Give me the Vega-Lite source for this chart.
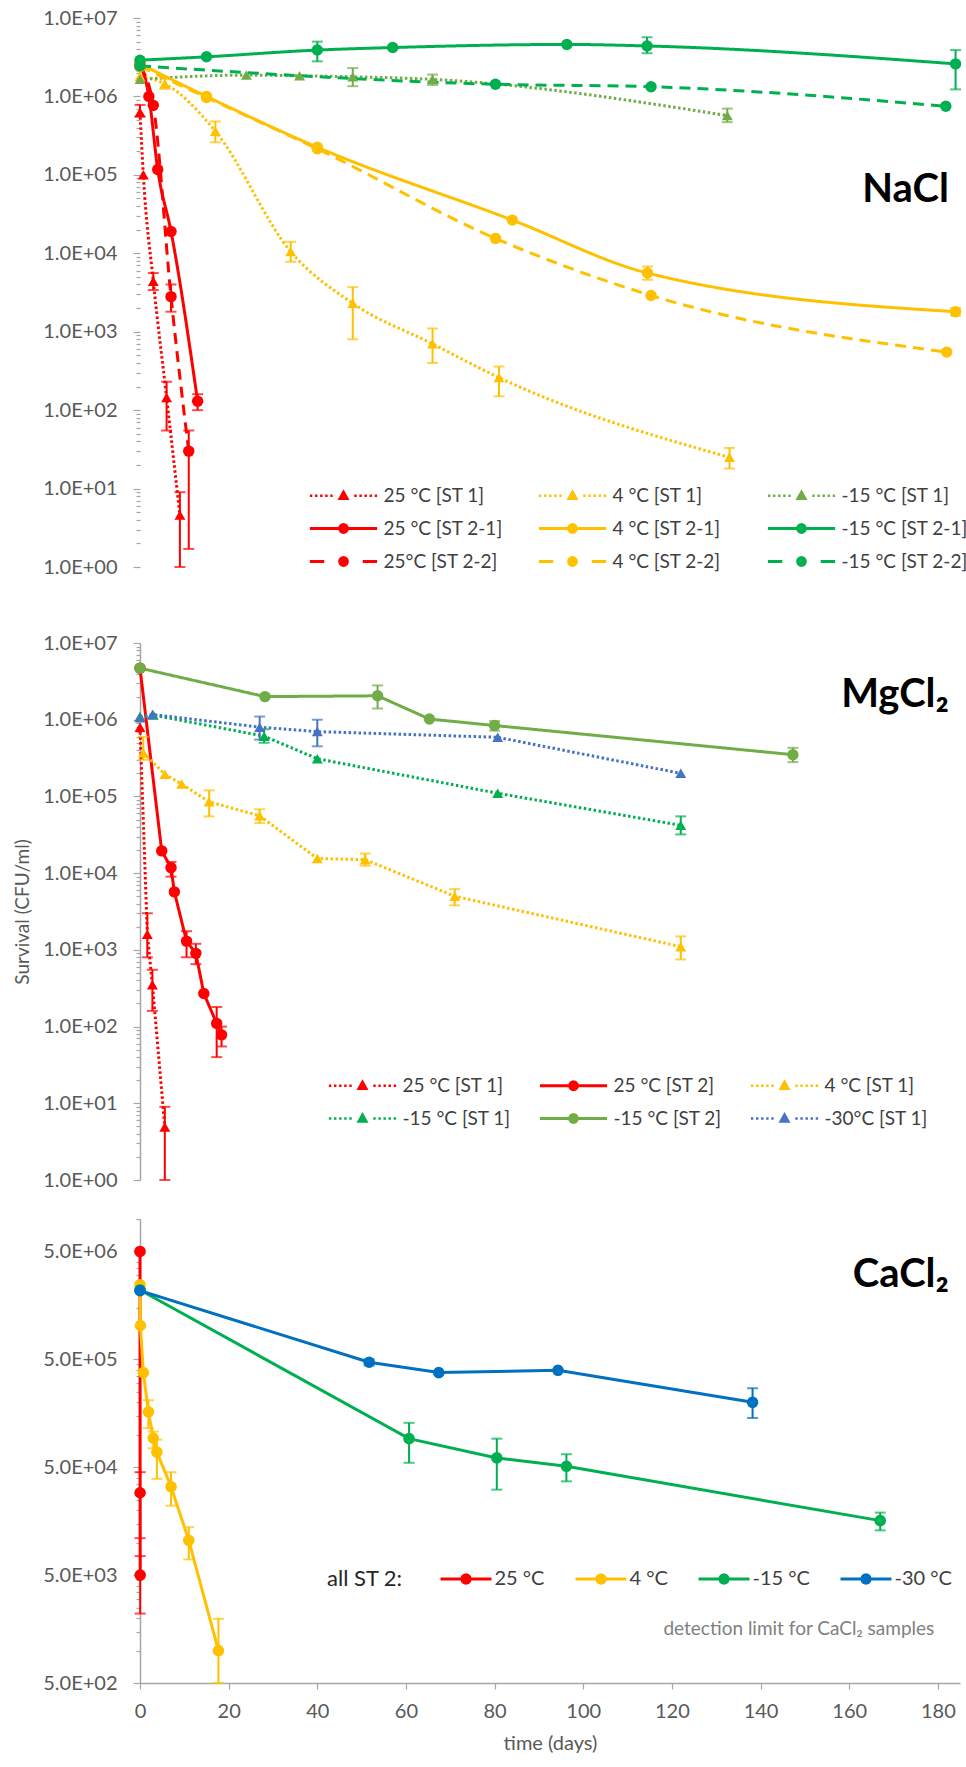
{
  "$schema": "https://vega.github.io/schema/vega-lite/v6.json",
  "padding": {"left": 13, "top": 8, "right": 5, "bottom": 5},
  "config": {
    "view": {"stroke": null},
    "font": "Lato",
    "axis": {"labelFont": "Lato", "labelFontSize": 20, "labelColor": "#595959", "domainColor": "#A6A6A6", "domainWidth": 1.5, "tickColor": "#A6A6A6", "tickWidth": 1.2, "grid": false, "labelPadding": 16, "titleFont": "Lato", "titleFontWeight": "normal", "titleColor": "#595959", "labelOverlap": false, "labelFlush": false},
    "legend": {"labelFont": "Lato", "labelFontSize": 19, "labelColor": "#404040", "labelLimit": 400, "symbolStrokeWidth": 0, "symbolSize": 144, "titleFont": "Lato", "direction": "horizontal"}
  },
  "datasets": {
    "nacl": [
      {"series": "25 °C [ST 1]", "day": 0, "v": 630000, "lo": 550000, "hi": 780000},
      {"series": "25 °C [ST 1]", "day": 0.75, "v": 100000},
      {"series": "25 °C [ST 1]", "day": 3, "v": 4400, "lo": 3400, "hi": 5600},
      {"series": "25 °C [ST 1]", "day": 6, "v": 145, "lo": 55, "hi": 230},
      {"series": "25 °C [ST 1]", "day": 9, "v": 4.6, "lo": 1, "hi": 9},
      {"series": "4 °C [ST 1]", "day": 0, "v": 1800000},
      {"series": "4 °C [ST 1]", "day": 5.6, "v": 1450000, "lo": 1250000, "hi": 1700000},
      {"series": "4 °C [ST 1]", "day": 17, "v": 360000, "lo": 260000, "hi": 480000},
      {"series": "4 °C [ST 1]", "day": 34, "v": 10500, "lo": 7800, "hi": 14000},
      {"series": "4 °C [ST 1]", "day": 48, "v": 2300, "lo": 800, "hi": 3700},
      {"series": "4 °C [ST 1]", "day": 66, "v": 700, "lo": 400, "hi": 1100},
      {"series": "4 °C [ST 1]", "day": 81, "v": 260, "lo": 150, "hi": 360},
      {"series": "4 °C [ST 1]", "day": 133, "v": 25, "lo": 18, "hi": 33},
      {"series": "-15 °C [ST 1]", "day": 0, "v": 1650000},
      {"series": "-15 °C [ST 1]", "day": 24, "v": 1870000},
      {"series": "-15 °C [ST 1]", "day": 36, "v": 1830000},
      {"series": "-15 °C [ST 1]", "day": 48, "v": 1780000, "lo": 1350000, "hi": 2300000},
      {"series": "-15 °C [ST 1]", "day": 66, "v": 1650000, "lo": 1400000, "hi": 1900000},
      {"series": "-15 °C [ST 1]", "day": 132.5, "v": 570000, "lo": 470000, "hi": 700000},
      {"series": "25 °C [ST 2-1]", "day": 0, "v": 2600000},
      {"series": "25 °C [ST 2-1]", "day": 2, "v": 1000000},
      {"series": "25 °C [ST 2-1]", "day": 4, "v": 117000},
      {"series": "25 °C [ST 2-1]", "day": 7, "v": 19000},
      {"series": "25 °C [ST 2-1]", "day": 13, "v": 130, "lo": 100, "hi": 160},
      {"series": "4 °C [ST 2-1]", "day": 0, "v": 2600000},
      {"series": "4 °C [ST 2-1]", "day": 15, "v": 1000000},
      {"series": "4 °C [ST 2-1]", "day": 40, "v": 225000},
      {"series": "4 °C [ST 2-1]", "day": 84, "v": 26500},
      {"series": "4 °C [ST 2-1]", "day": 114.5, "v": 5600, "lo": 4600, "hi": 6800},
      {"series": "4 °C [ST 2-1]", "day": 184, "v": 1800, "lo": 1600, "hi": 2000},
      {"series": "-15 °C [ST 2-1]", "day": 0, "v": 2900000},
      {"series": "-15 °C [ST 2-1]", "day": 15, "v": 3200000},
      {"series": "-15 °C [ST 2-1]", "day": 40, "v": 3900000, "lo": 2800000, "hi": 5000000},
      {"series": "-15 °C [ST 2-1]", "day": 57, "v": 4200000},
      {"series": "-15 °C [ST 2-1]", "day": 96.3, "v": 4600000},
      {"series": "-15 °C [ST 2-1]", "day": 114.4, "v": 4400000, "lo": 3550000, "hi": 5700000},
      {"series": "-15 °C [ST 2-1]", "day": 184, "v": 2600000, "lo": 1230000, "hi": 3900000},
      {"series": "25°C [ST 2-2]", "day": 0, "v": 2400000},
      {"series": "25°C [ST 2-2]", "day": 3, "v": 770000},
      {"series": "25°C [ST 2-2]", "day": 7, "v": 2800, "lo": 1800, "hi": 4000},
      {"series": "25°C [ST 2-2]", "day": 11, "v": 30, "lo": 1.7, "hi": 55},
      {"series": "4 °C [ST 2-2]", "day": 0, "v": 2400000},
      {"series": "4 °C [ST 2-2]", "day": 15, "v": 970000},
      {"series": "4 °C [ST 2-2]", "day": 40, "v": 215000},
      {"series": "4 °C [ST 2-2]", "day": 80.2, "v": 15500},
      {"series": "4 °C [ST 2-2]", "day": 115.3, "v": 2900},
      {"series": "4 °C [ST 2-2]", "day": 182, "v": 550},
      {"series": "-15 °C [ST 2-2]", "day": 0, "v": 2450000},
      {"series": "-15 °C [ST 2-2]", "day": 80.2, "v": 1430000},
      {"series": "-15 °C [ST 2-2]", "day": 115.3, "v": 1330000},
      {"series": "-15 °C [ST 2-2]", "day": 181.8, "v": 750000}
    ],
    "mgcl": [
      {"series": "25 °C [ST 1]", "day": 0, "v": 800000},
      {"series": "25 °C [ST 1]", "day": 1.65, "v": 1600, "lo": 800, "hi": 3000},
      {"series": "25 °C [ST 1]", "day": 2.8, "v": 350, "lo": 160, "hi": 550},
      {"series": "25 °C [ST 1]", "day": 5.6, "v": 4.9, "lo": 1, "hi": 9},
      {"series": "25 °C [ST 2]", "day": 0, "v": 4700000},
      {"series": "25 °C [ST 2]", "day": 4.9, "v": 19500},
      {"series": "25 °C [ST 2]", "day": 7, "v": 11800, "lo": 9000, "hi": 14000},
      {"series": "25 °C [ST 2]", "day": 7.75, "v": 5700},
      {"series": "25 °C [ST 2]", "day": 10.5, "v": 1300, "lo": 800, "hi": 1750},
      {"series": "25 °C [ST 2]", "day": 12.6, "v": 900, "lo": 650, "hi": 1200},
      {"series": "25 °C [ST 2]", "day": 14.4, "v": 270},
      {"series": "25 °C [ST 2]", "day": 17.3, "v": 110, "lo": 40, "hi": 180},
      {"series": "25 °C [ST 2]", "day": 18.4, "v": 78, "lo": 55, "hi": 100},
      {"series": "4 °C [ST 1]", "day": 0.75, "v": 370000, "lo": 300000, "hi": 600000},
      {"series": "4 °C [ST 1]", "day": 5.6, "v": 195000},
      {"series": "4 °C [ST 1]", "day": 9.4, "v": 145000},
      {"series": "4 °C [ST 1]", "day": 15.6, "v": 85000, "lo": 55000, "hi": 120000},
      {"series": "4 °C [ST 1]", "day": 27, "v": 56000, "lo": 45000, "hi": 68000},
      {"series": "4 °C [ST 1]", "day": 40, "v": 15500},
      {"series": "4 °C [ST 1]", "day": 50.8, "v": 15000, "lo": 12500, "hi": 18000},
      {"series": "4 °C [ST 1]", "day": 71, "v": 5000, "lo": 3800, "hi": 6200},
      {"series": "4 °C [ST 1]", "day": 122, "v": 1100, "lo": 750, "hi": 1500},
      {"series": "-15 °C [ST 1]", "day": 0, "v": 1100000},
      {"series": "-15 °C [ST 1]", "day": 3, "v": 1150000},
      {"series": "-15 °C [ST 1]", "day": 28, "v": 610000, "lo": 500000, "hi": 750000},
      {"series": "-15 °C [ST 1]", "day": 40, "v": 310000},
      {"series": "-15 °C [ST 1]", "day": 80.7, "v": 110000},
      {"series": "-15 °C [ST 1]", "day": 122, "v": 42000, "lo": 32000, "hi": 55000},
      {"series": "-15 °C [ST 2]", "day": 0, "v": 4700000},
      {"series": "-15 °C [ST 2]", "day": 28.2, "v": 2000000},
      {"series": "-15 °C [ST 2]", "day": 53.6, "v": 2050000, "lo": 1400000, "hi": 2800000},
      {"series": "-15 °C [ST 2]", "day": 65.3, "v": 1020000},
      {"series": "-15 °C [ST 2]", "day": 80, "v": 840000, "lo": 720000, "hi": 960000},
      {"series": "-15 °C [ST 2]", "day": 147.3, "v": 350000, "lo": 280000, "hi": 430000},
      {"series": "-30°C [ST 1]", "day": 0, "v": 1060000},
      {"series": "-30°C [ST 1]", "day": 2.8, "v": 1170000},
      {"series": "-30°C [ST 1]", "day": 27, "v": 800000, "lo": 550000, "hi": 1100000},
      {"series": "-30°C [ST 1]", "day": 40, "v": 700000, "lo": 450000, "hi": 1000000},
      {"series": "-30°C [ST 1]", "day": 80.7, "v": 590000},
      {"series": "-30°C [ST 1]", "day": 122, "v": 200000}
    ],
    "cacl": [
      {"series": "25 °C", "day": 0, "v": 5000000},
      {"series": "25 °C", "day": 0.02, "v": 29000, "lo": 11000, "hi": 45000},
      {"series": "25 °C", "day": 0.04, "v": 5000, "lo": 2200, "hi": 7500},
      {"series": "4 °C", "day": 0, "v": 2460000},
      {"series": "4 °C", "day": 0.1, "v": 1030000},
      {"series": "4 °C", "day": 0.75, "v": 377000},
      {"series": "4 °C", "day": 1.9, "v": 163000, "lo": 115000, "hi": 209000},
      {"series": "4 °C", "day": 3, "v": 93000, "lo": 75000, "hi": 107000},
      {"series": "4 °C", "day": 3.8, "v": 69000, "lo": 39000, "hi": 90000},
      {"series": "4 °C", "day": 7, "v": 33000, "lo": 22000, "hi": 45000},
      {"series": "4 °C", "day": 11, "v": 10500, "lo": 7000, "hi": 13900},
      {"series": "4 °C", "day": 17.7, "v": 1000, "lo": 500, "hi": 1970},
      {"series": "-15 °C", "day": 0, "v": 2200000},
      {"series": "-15 °C", "day": 60.7, "v": 92000, "lo": 55000, "hi": 129000},
      {"series": "-15 °C", "day": 80.5, "v": 61000, "lo": 31000, "hi": 92000},
      {"series": "-15 °C", "day": 96.2, "v": 51000, "lo": 37000, "hi": 66000},
      {"series": "-15 °C", "day": 167, "v": 16000, "lo": 13000, "hi": 19000},
      {"series": "-30 °C", "day": 0, "v": 2170000},
      {"series": "-30 °C", "day": 51.7, "v": 470000, "lo": 440000, "hi": 500000},
      {"series": "-30 °C", "day": 67.4, "v": 377000},
      {"series": "-30 °C", "day": 94.3, "v": 396000},
      {"series": "-30 °C", "day": 138.2, "v": 200000, "lo": 143000, "hi": 270000}
    ]
  },
  "vconcat": [
    {
      "width": 820, "height": 586,
      "data": {"name": "nacl"},
      "encoding": {
        "x": {"field": "day", "type": "quantitative", "scale": {"domain": [0, 185], "nice": false, "zero": false}, "axis": null},
        "y": {"field": "v", "type": "quantitative", "scale": {"type": "log", "domain": [0.3375, 10000000], "nice": false},
          "axis": {"title": null, "domain": false, "values": [1,2,3,4,5,6,7,8,9,10,20,30,40,50,60,70,80,90,100,200,300,400,500,600,700,800,900,1000,2000,3000,4000,5000,6000,7000,8000,9000,10000,20000,30000,40000,50000,60000,70000,80000,90000,100000,200000,300000,400000,500000,600000,700000,800000,900000,1000000,2000000,3000000,4000000,5000000,6000000,7000000,8000000,9000000,10000000],
            "labelExpr": "abs(log(datum.value)/LN10 - round(log(datum.value)/LN10)) < 0.000001 ? '1.0E+0' + round(log(datum.value)/LN10) : ''",
            "tickSize": {"condition": {"test": "abs(log(datum.value)/LN10 - round(log(datum.value)/LN10)) < 0.000001", "value": 7}, "value": 4}}},
        "color": {"field": "series", "type": "nominal",
          "scale": {"domain": ["25 °C [ST 1]", "4 °C [ST 1]", "-15 °C [ST 1]", "25 °C [ST 2-1]", "4 °C [ST 2-1]", "-15 °C [ST 2-1]", "25°C [ST 2-2]", "4 °C [ST 2-2]", "-15 °C [ST 2-2]"],
            "range": ["#FF0000", "#FFC000", "#70AD47", "#FF0000", "#FFC000", "#00B050", "#FF0000", "#FFC000", "#00B050"]},
          "legend": {"orient": "none", "legendX": 170, "legendY": 468, "columns": 3, "gridAlign": "all", "columnPadding": 28, "rowPadding": 13, "title": null,
            "symbolOffset": 24, "labelOffset": 30.5,
            "encoding": {"symbols": {
              "shape": {"value": {"expr": "indexof(datum.value, 'ST 1]') >= 0 ? 'M-5.6,-0.2L-5.2,-0.2L-5.2,0.2L-5.6,0.2ZM-4.75,-0.2L-4.35,-0.2L-4.35,0.2L-4.75,0.2ZM-3.9,-0.2L-3.5,-0.2L-3.5,0.2L-3.9,0.2ZM-3.05,-0.2L-2.65,-0.2L-2.65,0.2L-3.05,0.2ZM-2.2,-0.2L-1.8,-0.2L-1.8,0.2L-2.2,0.2ZM1.8,-0.2L2.2,-0.2L2.2,0.2L1.8,0.2ZM2.65,-0.2L3.05,-0.2L3.05,0.2L2.65,0.2ZM3.5,-0.2L3.9,-0.2L3.9,0.2L3.5,0.2ZM4.35,-0.2L4.75,-0.2L4.75,0.2L4.35,0.2ZM5.2,-0.2L5.6,-0.2L5.6,0.2L5.2,0.2ZM0,-1.1L1,0.7L-1,0.7Z' : (indexof(datum.value, '2-2') >= 0 ? 'M-5.6,-0.25L-3.2,-0.25L-3.2,0.25L-5.6,0.25ZM3.2,-0.25L5.6,-0.25L5.6,0.25L3.2,0.25ZM0.9,0L0.78,0.45L0.45,0.78L0,0.9L-0.45,0.78L-0.78,0.45L-0.9,0L-0.78,-0.45L-0.45,-0.78L0,-0.9L0.45,-0.78L0.78,-0.45Z' : 'M-5.6,-0.25L5.6,-0.25L5.6,0.25L-5.6,0.25ZM0.9,0L0.78,0.45L0.45,0.78L0,0.9L-0.45,0.78L-0.78,0.45L-0.9,0L-0.78,-0.45L-0.45,-0.78L0,-0.9L0.45,-0.78L0.78,-0.45Z')"}},
              "fill": {"value": {"expr": "indexof(datum.value, '-15') >= 0 ? (indexof(datum.value, 'ST 1]') >= 0 ? '#70AD47' : '#00B050') : (indexof(datum.value, '25') >= 0 ? '#FF0000' : '#FFC000')"}},
              "strokeWidth": {"value": 0},
              "opacity": {"value": 1}
            }}}}
      },
      "layer": [
        {"data": {"values": [{"a": 1}]},
         "mark": {"type": "rule", "strokeWidth": 1.5},
         "encoding": {"x": {"datum": 0}, "y": {"datum": 1}, "y2": {"datum": 10000000}, "color": {"value": "#A6A6A6"}}},
        {"mark": {"type": "line", "interpolate": "monotone", "strokeWidth": 3, "strokeCap": "butt"},
         "encoding": {"strokeDash": {"field": "series", "type": "nominal", "legend": null,
           "scale": {"domain": ["25 °C [ST 1]", "4 °C [ST 1]", "-15 °C [ST 1]", "25 °C [ST 2-1]", "4 °C [ST 2-1]", "-15 °C [ST 2-1]", "25°C [ST 2-2]", "4 °C [ST 2-2]", "-15 °C [ST 2-2]"],
             "range": [[2.5, 2.5], [2.5, 2.5], [2.5, 2.5], [1, 0], [1, 0], [1, 0], [11, 7], [11, 7], [11, 7]]}}}},
        {"transform": [{"filter": "isValid(datum.lo)"}],
         "mark": {"type": "errorbar", "ticks": true, "size": 11, "thickness": 2},
         "encoding": {"y": {"field": "lo", "type": "quantitative", "scale": {"type": "log", "domain": [0.3375, 10000000], "nice": false}}, "y2": {"field": "hi"}}},
        {"transform": [{"filter": "indexof(datum.series, 'ST 1]') >= 0"}],
         "mark": {"type": "point", "shape": "triangle-up", "filled": true, "size": 120, "opacity": 1}},
        {"transform": [{"filter": "indexof(datum.series, 'ST 1]') < 0"}],
         "mark": {"type": "point", "shape": "circle", "filled": true, "size": 130, "opacity": 1}},
        {"data": {"values": [{"t": "NaCl", "day": 182.5, "v": 64000}]},
         "mark": {"type": "text", "align": "right", "baseline": "middle", "fontSize": 40, "fontWeight": "bold", "font": "Lato"},
         "encoding": {"text": {"field": "t"}, "color": {"value": "#000000"}}}
      ]
    },
    {
      "width": 820, "height": 537,
      "data": {"name": "mgcl"},
      "encoding": {
        "x": {"field": "day", "type": "quantitative", "scale": {"domain": [0, 185], "nice": false, "zero": false}, "axis": null},
        "y": {"field": "v", "type": "quantitative", "scale": {"type": "log", "domain": [1, 10000000], "nice": false},
          "axis": {"title": "Survival (CFU/ml)", "titleFontSize": 19, "titlePadding": 10, "values": [1,2,3,4,5,6,7,8,9,10,20,30,40,50,60,70,80,90,100,200,300,400,500,600,700,800,900,1000,2000,3000,4000,5000,6000,7000,8000,9000,10000,20000,30000,40000,50000,60000,70000,80000,90000,100000,200000,300000,400000,500000,600000,700000,800000,900000,1000000,2000000,3000000,4000000,5000000,6000000,7000000,8000000,9000000,10000000],
            "labelExpr": "abs(log(datum.value)/LN10 - round(log(datum.value)/LN10)) < 0.000001 ? '1.0E+0' + round(log(datum.value)/LN10) : ''",
            "tickSize": {"condition": {"test": "abs(log(datum.value)/LN10 - round(log(datum.value)/LN10)) < 0.000001", "value": 7}, "value": 4}}},
        "color": {"field": "series", "type": "nominal",
          "scale": {"domain": ["25 °C [ST 1]", "25 °C [ST 2]", "4 °C [ST 1]", "-15 °C [ST 1]", "-15 °C [ST 2]", "-30°C [ST 1]"],
            "range": ["#FF0000", "#FF0000", "#FFC000", "#00B050", "#70AD47", "#4472C4"]},
          "legend": {"orient": "none", "legendX": 189, "legendY": 433, "columns": 3, "gridAlign": "all", "columnPadding": 28, "rowPadding": 13, "title": null,
            "symbolOffset": 24, "labelOffset": 30.5,
            "encoding": {"symbols": {
              "shape": {"value": {"expr": "indexof(datum.value, 'ST 1]') >= 0 ? 'M-5.6,-0.2L-5.2,-0.2L-5.2,0.2L-5.6,0.2ZM-4.75,-0.2L-4.35,-0.2L-4.35,0.2L-4.75,0.2ZM-3.9,-0.2L-3.5,-0.2L-3.5,0.2L-3.9,0.2ZM-3.05,-0.2L-2.65,-0.2L-2.65,0.2L-3.05,0.2ZM-2.2,-0.2L-1.8,-0.2L-1.8,0.2L-2.2,0.2ZM1.8,-0.2L2.2,-0.2L2.2,0.2L1.8,0.2ZM2.65,-0.2L3.05,-0.2L3.05,0.2L2.65,0.2ZM3.5,-0.2L3.9,-0.2L3.9,0.2L3.5,0.2ZM4.35,-0.2L4.75,-0.2L4.75,0.2L4.35,0.2ZM5.2,-0.2L5.6,-0.2L5.6,0.2L5.2,0.2ZM0,-1.1L1,0.7L-1,0.7Z' : 'M-5.6,-0.25L5.6,-0.25L5.6,0.25L-5.6,0.25ZM0.9,0L0.78,0.45L0.45,0.78L0,0.9L-0.45,0.78L-0.78,0.45L-0.9,0L-0.78,-0.45L-0.45,-0.78L0,-0.9L0.45,-0.78L0.78,-0.45Z'"}},
              "fill": {"value": {"expr": "indexof(datum.value, '-30') >= 0 ? '#4472C4' : (indexof(datum.value, '-15') >= 0 ? (indexof(datum.value, 'ST 1]') >= 0 ? '#00B050' : '#70AD47') : (indexof(datum.value, '25') >= 0 ? '#FF0000' : '#FFC000'))"}},
              "strokeWidth": {"value": 0},
              "opacity": {"value": 1}
            }}}}
      },
      "layer": [
        {"mark": {"type": "line", "strokeWidth": 3, "strokeCap": "butt"},
         "encoding": {"strokeDash": {"field": "series", "type": "nominal", "legend": null,
           "scale": {"domain": ["25 °C [ST 1]", "25 °C [ST 2]", "4 °C [ST 1]", "-15 °C [ST 1]", "-15 °C [ST 2]", "-30°C [ST 1]"],
             "range": [[2.5, 2.5], [1, 0], [2.5, 2.5], [2.5, 2.5], [1, 0], [2.5, 2.5]]}}}},
        {"transform": [{"filter": "isValid(datum.lo)"}],
         "mark": {"type": "errorbar", "ticks": true, "size": 11, "thickness": 2},
         "encoding": {"y": {"field": "lo", "type": "quantitative", "scale": {"type": "log", "domain": [1, 10000000], "nice": false}}, "y2": {"field": "hi"}}},
        {"transform": [{"filter": "indexof(datum.series, 'ST 1]') >= 0"}],
         "mark": {"type": "point", "shape": "triangle-up", "filled": true, "size": 120, "opacity": 1}},
        {"transform": [{"filter": "indexof(datum.series, 'ST 1]') < 0"}],
         "mark": {"type": "point", "shape": "circle", "filled": true, "size": 130, "opacity": 1}},
        {"data": {"values": [{"t": "MgCl₂", "day": 182.5, "v": 2100000}]},
         "mark": {"type": "text", "align": "right", "baseline": "middle", "fontSize": 40, "fontWeight": "bold", "font": "Lato"},
         "encoding": {"text": {"field": "t"}, "color": {"value": "#000000"}}}
      ]
    },
    {
      "width": 820, "height": 464,
      "data": {"name": "cacl"},
      "encoding": {
        "x": {"field": "day", "type": "quantitative", "scale": {"domain": [0, 185], "nice": false, "zero": false},
          "axis": {"title": "time (days)", "titleFontSize": 20, "titlePadding": 12, "values": [0,20,40,60,80,100,120,140,160,180], "tickSize": 6, "labelPadding": 12}},
        "y": {"field": "v", "type": "quantitative", "scale": {"type": "log", "domain": [500, 10000000], "nice": false},
          "axis": {"title": null, "values": [500,1000,1500,2000,2500,3000,3500,4000,4500,5000,10000,15000,20000,25000,30000,35000,40000,45000,50000,100000,150000,200000,250000,300000,350000,400000,450000,500000,1000000,1500000,2000000,2500000,3000000,3500000,4000000,4500000,5000000,10000000],
            "labelExpr": "abs(log(datum.value/5)/LN10 - round(log(datum.value/5)/LN10)) < 0.000001 ? '5.0E+0' + round(log(datum.value/5)/LN10) : ''",
            "tickSize": {"condition": {"test": "abs(log(datum.value/5)/LN10 - round(log(datum.value/5)/LN10)) < 0.000001", "value": 7}, "value": 4}}},
        "color": {"field": "series", "type": "nominal",
          "scale": {"domain": ["25 °C", "4 °C", "-15 °C", "-30 °C"], "range": ["#FF0000", "#FFC000", "#00B050", "#0070C0"]},
          "legend": {"orient": "none", "legendX": 187, "legendY": 350, "columns": 4, "columnPadding": 30, "title": "all ST 2:", "titleOrient": "left", "titleFontSize": 22, "titleFontWeight": "normal", "titleColor": "#262626", "titlePadding": 37, "labelFontSize": 20,
            "symbolOffset": 16, "labelOffset": 18.5,
            "encoding": {"symbols": {
              "shape": {"value": "M-4.25,-0.25L4.25,-0.25L4.25,0.25L-4.25,0.25ZM0.95,0L0.82,0.48L0.48,0.82L0,0.95L-0.48,0.82L-0.82,0.48L-0.95,0L-0.82,-0.48L-0.48,-0.82L0,-0.95L0.48,-0.82L0.82,-0.48Z"},
              "fill": {"value": {"expr": "indexof(datum.value, '-30') >= 0 ? '#0070C0' : (indexof(datum.value, '-15') >= 0 ? '#00B050' : (indexof(datum.value, '25') >= 0 ? '#FF0000' : '#FFC000'))"}},
              "strokeWidth": {"value": 0},
              "opacity": {"value": 1}
            }}}}
      },
      "layer": [
        {"data": {"values": [{"v": 1000}]},
         "mark": {"type": "rule", "strokeDash": [4, 3], "strokeWidth": 1},
         "encoding": {"x": {"datum": 0}, "x2": {"datum": 185}, "color": {"value": "#909090"}}},
        {"data": {"values": [{"t": "detection limit for CaCl₂ samples", "day": 179.2, "v": 1600}]},
         "mark": {"type": "text", "align": "right", "baseline": "middle", "fontSize": 19, "font": "Lato"},
         "encoding": {"text": {"field": "t"}, "color": {"value": "#808080"}}},
        {"mark": {"type": "line", "strokeWidth": 3}},
        {"transform": [{"filter": "isValid(datum.lo)"}],
         "mark": {"type": "errorbar", "ticks": true, "size": 11, "thickness": 2},
         "encoding": {"y": {"field": "lo", "type": "quantitative", "scale": {"type": "log", "domain": [500, 10000000], "nice": false}}, "y2": {"field": "hi"}}},
        {"mark": {"type": "point", "filled": true, "size": 135, "opacity": 1, "shape": "circle"}},
        {"data": {"values": [{"t": "CaCl₂", "day": 182.5, "v": 3000000}]},
         "mark": {"type": "text", "align": "right", "baseline": "middle", "fontSize": 40, "fontWeight": "bold", "font": "Lato"},
         "encoding": {"text": {"field": "t"}, "color": {"value": "#000000"}}}
      ]
    }
  ],
  "spacing": 39,
  "bounds": "flush",
  "resolve": {"scale": {"x": "independent", "y": "independent", "color": "independent", "shape": "independent", "strokeDash": "independent"}}
}
